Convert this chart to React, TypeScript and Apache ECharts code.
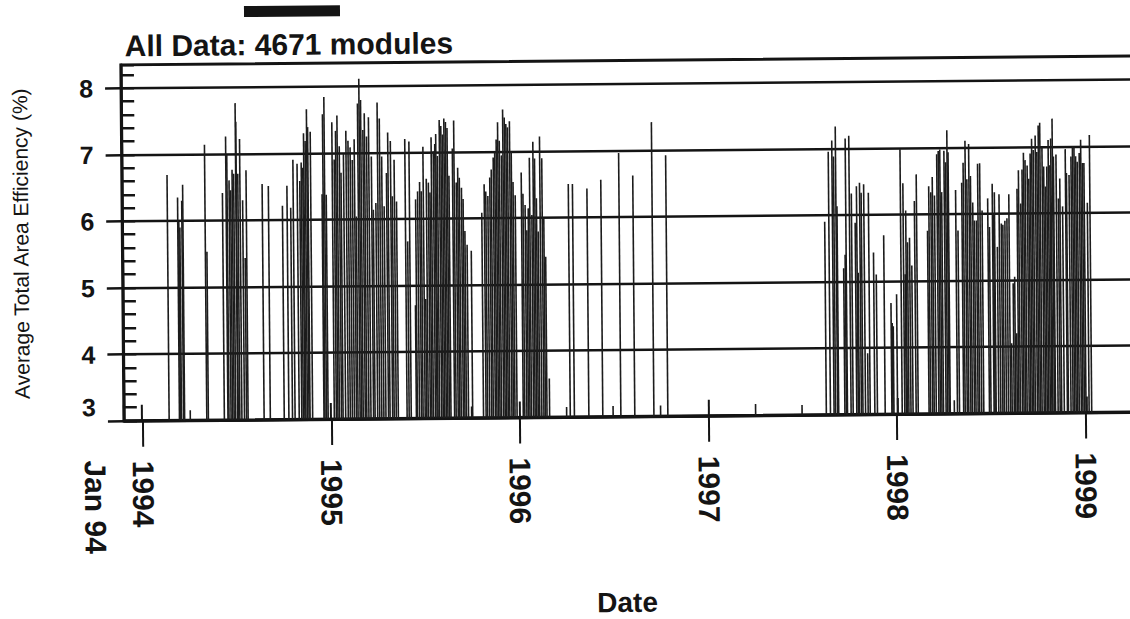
import React, { useEffect, useRef } from 'react';
import * as echarts from 'echarts';

// Average total-area efficiency readings (date, %), grouped by year.
const season1994: [string, number][] = [
  ['1994-02-21', 6.69], ['1994-03-13', 6.35], ['1994-03-15', 5.98], ['1994-03-17', 5.9],
  ['1994-03-21', 6.3], ['1994-03-23', 6.54], ['1994-04-03', 3.15], ['1994-05-05', 7.14],
  ['1994-05-08', 5.53], ['1994-06-08', 6.41], ['1994-06-15', 7.26], ['1994-06-17', 6.98],
  ['1994-06-21', 6.6], ['1994-06-24', 6.45], ['1994-06-27', 6.76], ['1994-06-30', 6.7],
  ['1994-07-04', 7.76], ['1994-07-05', 7.48], ['1994-07-08', 6.7], ['1994-07-12', 7.22],
  ['1994-07-17', 6.3], ['1994-07-21', 5.43], ['1994-07-24', 6.75], ['1994-08-24', 6.54],
  ['1994-09-05', 6.51], ['1994-10-02', 6.21], ['1994-10-11', 6.51], ['1994-10-18', 6.18],
  ['1994-10-23', 6.9], ['1994-10-31', 6.84], ['1994-11-05', 6.58], ['1994-11-08', 6.86],
  ['1994-11-11', 6.78], ['1994-11-13', 7.3], ['1994-11-16', 7.18], ['1994-11-19', 7.66],
  ['1994-11-21', 7.39], ['1994-11-26', 7.32], ['1994-12-18', 6.38], ['1994-12-20', 7.58],
  ['1994-12-23', 7.84], ['1994-12-26', 6.37],
];

const season1995: [string, number][] = [
  ['1995-01-07', 7.46], ['1995-01-11', 6.9], ['1995-01-14', 7.33], ['1995-01-17', 7.56],
  ['1995-01-21', 7.1], ['1995-01-24', 6.7], ['1995-01-29', 6.98], ['1995-02-03', 7.33],
  ['1995-02-07', 7.18], ['1995-02-11', 7.08], ['1995-02-15', 6.89], ['1995-02-19', 7.2],
  ['1995-02-22', 6.04], ['1995-02-26', 7.74], ['1995-03-01', 8.11], ['1995-03-04', 7.79],
  ['1995-03-08', 7.34], ['1995-03-11', 7.59], ['1995-03-15', 7.24], ['1995-03-19', 7.53],
  ['1995-03-24', 6.94], ['1995-03-27', 6.14], ['1995-04-01', 6.24], ['1995-04-05', 7.75],
  ['1995-04-09', 7.51], ['1995-04-13', 6.94], ['1995-04-17', 6.19], ['1995-04-22', 6.69],
  ['1995-04-25', 7.3], ['1995-04-30', 7.17], ['1995-05-03', 6.34], ['1995-05-07', 6.89],
  ['1995-05-11', 6.26], ['1995-05-28', 7.2], ['1995-06-01', 5.66], ['1995-06-05', 7.16],
  ['1995-06-15', 4.7], ['1995-06-17', 6.29], ['1995-06-21', 6.41], ['1995-06-25', 6.55],
  ['1995-06-28', 6.41], ['1995-07-02', 7.08], ['1995-07-05', 4.79], ['1995-07-08', 6.6],
  ['1995-07-12', 6.54], ['1995-07-15', 6.39], ['1995-07-18', 7.22], ['1995-07-22', 7.01],
  ['1995-07-25', 7.12], ['1995-07-27', 7.27], ['1995-07-30', 6.94], ['1995-08-03', 7.48],
  ['1995-08-06', 7.39], ['1995-08-09', 7.26], ['1995-08-12', 7.5], ['1995-08-15', 7.45],
  ['1995-08-18', 7.36], ['1995-08-21', 6.64], ['1995-08-28', 7.05], ['1995-08-31', 7.47],
  ['1995-09-04', 6.54], ['1995-09-07', 6.76], ['1995-09-10', 6.61], ['1995-09-14', 6.46],
  ['1995-09-17', 6.29], ['1995-09-20', 5.81], ['1995-09-24', 5.6], ['1995-09-30', 3.17],
  ['1995-10-02', 5.51], ['1995-10-23', 6.08], ['1995-10-28', 6.51], ['1995-10-31', 6.4],
  ['1995-11-04', 6.33], ['1995-11-08', 6.61], ['1995-11-11', 6.73], ['1995-11-15', 6.91],
  ['1995-11-18', 6.99], ['1995-11-21', 7.18], ['1995-11-24', 7.44], ['1995-11-27', 7.16],
  ['1995-12-01', 6.94], ['1995-12-04', 7.63], ['1995-12-07', 7.51], ['1995-12-10', 7.41],
  ['1995-12-13', 7.36], ['1995-12-17', 7.45], ['1995-12-20', 6.99], ['1995-12-23', 6.54],
  ['1995-12-27', 6.34],
];

const season1996: [string, number][] = [
  ['1996-01-08', 6.68], ['1996-01-11', 6.36], ['1996-01-15', 6.19], ['1996-01-18', 5.81],
  ['1996-01-21', 6.14], ['1996-01-24', 6.9], ['1996-01-28', 6.04], ['1996-01-31', 7.14],
  ['1996-02-03', 6.89], ['1996-02-06', 6.29], ['1996-02-09', 5.79], ['1996-02-13', 7.22],
  ['1996-02-17', 6.89], ['1996-02-20', 5.99], ['1996-02-23', 5.41], ['1996-02-28', 3.58],
  ['1996-04-01', 3.15], ['1996-04-08', 6.5], ['1996-04-16', 6.5], ['1996-05-14', 6.43],
  ['1996-06-10', 6.56], ['1996-06-30', 3.16], ['1996-07-15', 6.96], ['1996-08-11', 6.62],
  ['1996-09-17', 7.42], ['1996-09-30', 3.16], ['1996-10-14', 6.92],
];

const season1997: [string, number][] = [
  ['1997-04-02', 3.17], ['1997-07-01', 3.15], ['1997-08-17', 5.9], ['1997-08-25', 6.95],
  ['1997-09-01', 7.12], ['1997-09-04', 6.88], ['1997-09-08', 7.33], ['1997-09-10', 6.13],
  ['1997-09-22', 5.2], ['1997-09-25', 5.4], ['1997-09-27', 7.15], ['1997-10-04', 7.19],
  ['1997-10-08', 6.32], ['1997-10-15', 5.88], ['1997-10-18', 6.43], ['1997-10-20', 5.13],
  ['1997-10-24', 6.48], ['1997-10-27', 6.33], ['1997-11-01', 6.46], ['1997-11-06', 3.92],
  ['1997-11-10', 6.33], ['1997-11-19', 5.43], ['1997-11-24', 5.1], ['1997-12-09', 5.69],
  ['1997-12-22', 4.67], ['1997-12-24', 4.37], ['1997-12-26', 4.32],
];

const season1998: [string, number][] = [
  ['1998-01-02', 4.8], ['1998-01-11', 6.98], ['1998-01-16', 6.47], ['1998-01-19', 5.1],
  ['1998-01-21', 6.06], ['1998-01-24', 5.58], ['1998-01-28', 5.65], ['1998-02-01', 5.23],
  ['1998-02-07', 6.2], ['1998-02-11', 6.6], ['1998-03-04', 5.75], ['1998-03-07', 6.42],
  ['1998-03-11', 6.33], ['1998-03-14', 6.56], ['1998-03-18', 6.28], ['1998-03-23', 6.9],
  ['1998-03-26', 6.95], ['1998-03-29', 6.97], ['1998-04-01', 6.33], ['1998-04-06', 6.95],
  ['1998-04-09', 6.78], ['1998-04-12', 7.26], ['1998-04-14', 6.93], ['1998-04-22', 3.2],
  ['1998-04-28', 6.36], ['1998-05-02', 5.75], ['1998-05-10', 6.47], ['1998-05-13', 6.77],
  ['1998-05-17', 7.1], ['1998-05-20', 6.52], ['1998-05-24', 7.05], ['1998-05-27', 6.57],
  ['1998-05-31', 6.17], ['1998-06-03', 5.9], ['1998-06-07', 5.9], ['1998-06-10', 6.75],
  ['1998-06-14', 6.76], ['1998-06-18', 6.05], ['1998-06-29', 6.23], ['1998-07-02', 5.8],
  ['1998-07-08', 6.45], ['1998-07-10', 6.0], ['1998-07-12', 6.32], ['1998-07-17', 5.5],
  ['1998-07-21', 6.29], ['1998-07-25', 5.85], ['1998-07-28', 5.83], ['1998-08-01', 5.89],
  ['1998-08-05', 5.93], ['1998-08-09', 6.29], ['1998-08-12', 4.05], ['1998-08-16', 4.95],
  ['1998-08-19', 5.05], ['1998-08-22', 4.2], ['1998-08-25', 6.37], ['1998-08-28', 6.65],
  ['1998-09-01', 6.15], ['1998-09-04', 6.66], ['1998-09-07', 6.91], ['1998-09-10', 6.8],
  ['1998-09-14', 6.72], ['1998-09-17', 6.52], ['1998-09-20', 6.9], ['1998-09-23', 7.12],
  ['1998-09-26', 6.95], ['1998-09-30', 7.17], ['1998-10-03', 6.92], ['1998-10-06', 7.32],
  ['1998-10-09', 7.36], ['1998-10-13', 7.0], ['1998-10-16', 6.7], ['1998-10-19', 6.4],
  ['1998-10-22', 6.7], ['1998-10-25', 7.1], ['1998-10-28', 6.72], ['1998-10-30', 7.12],
  ['1998-11-02', 7.42], ['1998-11-04', 6.85], ['1998-11-09', 6.88], ['1998-11-13', 6.22],
  ['1998-11-16', 6.52], ['1998-11-21', 6.1], ['1998-11-27', 6.96], ['1998-11-29', 6.6],
  ['1998-12-04', 6.57], ['1998-12-08', 6.85], ['1998-12-11', 7.0], ['1998-12-14', 7.0],
  ['1998-12-17', 6.85], ['1998-12-20', 6.77], ['1998-12-24', 6.9], ['1998-12-27', 7.1],
  ['1998-12-30', 6.75],
];

const season1999: [string, number][] = [
  ['1999-01-02', 6.75], ['1999-01-08', 6.15], ['1999-01-13', 7.17],
];

const yMajorTicks = [3, 4, 5, 6, 7, 8];

const TITLE = 'All Data: 4671 modules';
const Y_NAME = 'Average Total Area Efficiency (%)';
const X_NAME = 'Date';
const START_NOTE = 'Jan 94';

const FONT = '"Liberation Sans", Arial, Helvetica, sans-serif';
const INK = '#141414';
const DAY = 86400000;
const YEAR = 365 * DAY;

export default function App() {
  const ref = useRef<HTMLDivElement>(null);

  useEffect(() => {
    if (!ref.current) return;
    const chart = echarts.init(ref.current, null, { renderer: 'svg' });
    const readings = [
      ...season1994, ...season1995, ...season1996,
      ...season1997, ...season1998, ...season1999,
    ];
    const xMin = new Date(1993, 10, 27).getTime();
    const xMax = new Date(1999, 6, 9).getTime();

    chart.setOption({
      animation: false,
      backgroundColor: '#ffffff',
      title: {
        text: TITLE,
        left: 122,
        top: 22,
        textStyle: { fontFamily: FONT, fontSize: 30, fontWeight: 'bold', color: INK },
      },
      grid: {
        left: 123,
        top: 61,
        width: 1060,
        height: 356,
        show: true,
        borderColor: INK,
        borderWidth: 3,
        backgroundColor: 'transparent',
      },
      xAxis: [
        {
          type: 'time',
          min: xMin,
          max: xMax,
          position: 'bottom',
          minInterval: YEAR,
          maxInterval: YEAR,
          axisLine: { show: true, lineStyle: { color: INK, width: 3 } },
          axisTick: { show: true, length: 26, lineStyle: { color: INK, width: 2 } },
          axisLabel: {
            rotate: -90,
            margin: 40,
            fontFamily: FONT,
            fontSize: 30,
            fontWeight: 'bold',
            color: INK,
            formatter: (v: number) => String(new Date(v).getFullYear()),
          },
          splitLine: { show: false },
        },
        {
          // upper half of the year ticks, crossing the baseline
          type: 'time',
          min: xMin,
          max: xMax,
          position: 'bottom',
          minInterval: YEAR,
          maxInterval: YEAR,
          axisLine: { show: false },
          axisTick: { show: true, inside: true, length: 16, lineStyle: { color: INK, width: 2 } },
          axisLabel: { show: false },
          splitLine: { show: false },
        },
      ],
      yAxis: [
        {
          type: 'value',
          min: 3,
          max: 8.35,
          interval: 1,
          position: 'left',
          name: Y_NAME,
          nameLocation: 'middle',
          nameGap: 91,
          nameTextStyle: { fontFamily: FONT, fontSize: 21, color: INK },
          axisLine: { show: true, lineStyle: { color: INK, width: 2.5 } },
          axisTick: {
            show: true,
            length: 16,
            customValues: yMajorTicks,
            lineStyle: { color: INK, width: 2.5 },
          },
          axisLabel: {
            customValues: yMajorTicks,
            margin: 28,
            fontFamily: FONT,
            fontSize: 25,
            fontWeight: 'bold',
            color: INK,
            formatter: (v: number) => (v === 3 ? '{low|3}' : String(v)),
            rich: {
              low: {
                fontFamily: FONT,
                fontSize: 25,
                fontWeight: 'bold',
                color: INK,
                padding: [0, 0, 28, 0],
              },
            },
          },
          splitLine: { show: true, lineStyle: { color: INK, width: 2.5 } },
        },
        {
          // minor ticks every 0.2, drawn inside the plot
          type: 'value',
          min: 3,
          max: 8.35,
          interval: 0.2,
          position: 'left',
          axisLine: { show: false },
          axisTick: { show: true, inside: true, length: 13, lineStyle: { color: INK, width: 2.5 } },
          axisLabel: { show: false },
          splitLine: { show: false },
        },
      ],
      series: [
        {
          type: 'bar',
          xAxisIndex: 0,
          yAxisIndex: 0,
          data: readings,
          barWidth: 1.6,
          clip: true,
          silent: true,
          itemStyle: { color: '#1c1c1c' },
        },
      ],
      graphic: [
        {
          type: 'rect',
          shape: { x: 246.6, y: 3.3, width: 96, height: 11 },
          style: { fill: INK },
        },
        {
          type: 'text',
          x: 625,
          y: 603,
          style: {
            text: X_NAME,
            fontFamily: FONT,
            fontSize: 28,
            fontWeight: 'bold',
            fill: INK,
            align: 'center',
            verticalAlign: 'middle',
          },
        },
        {
          type: 'text',
          x: 94,
          y: 503,
          rotation: -Math.PI / 2,
          style: {
            text: START_NOTE,
            fontFamily: FONT,
            fontSize: 30,
            fontWeight: 'bold',
            fill: INK,
            align: 'center',
            verticalAlign: 'middle',
          },
        },
      ],
    });

    return () => chart.dispose();
  }, []);

  return (
    <div
      style={{
        position: 'fixed',
        left: 0,
        top: 0,
        width: 1130,
        height: 619,
        overflow: 'hidden',
        background: '#ffffff',
      }}
    >
      <div
        ref={ref}
        style={{
          width: 1200,
          height: 619,
          transform: 'rotate(-0.5deg)',
          transformOrigin: '565px 309.5px',
        }}
      />
    </div>
  );
}
